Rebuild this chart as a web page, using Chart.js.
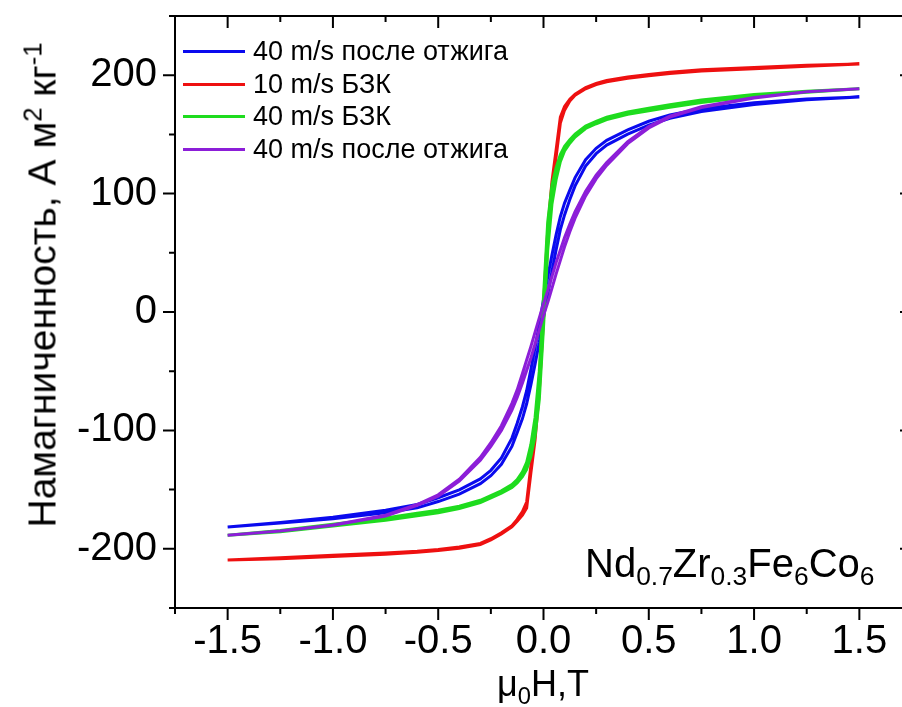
<!DOCTYPE html>
<html lang="ru">
<head>
<meta charset="utf-8">
<title>Намагниченность Nd0.7Zr0.3Fe6Co6</title>
<script src="https://cdn.jsdelivr.net/npm/chart.js@4.4.1/dist/chart.umd.min.js"></script>
<style>
  html, body { margin: 0; padding: 0; background: #fff; overflow: hidden; }
  #wrap { position: relative; width: 902px; height: 707px; overflow: hidden;
          font-family: "Liberation Sans", Arial, sans-serif; color: #000; }
  #plot { position: absolute; left: 0; top: 0; }
  .ytitle { position: absolute; left: 42px; top: 285px; white-space: nowrap; font-size: 39px;
            transform: translate(-50%, -50%) rotate(-90deg); line-height: 1; }
  .xtitle { position: absolute; left: 543px; top: 684px; white-space: nowrap; font-size: 36px;
            transform: translate(-50%, -50%); line-height: 1; }
  .formula { position: absolute; left: 585px; top: 543px; white-space: nowrap; font-size: 40px; line-height: 1; }
  sub, sup { font-size: 0.66em; line-height: 0; position: relative; vertical-align: baseline; }
  sub { top: 0.32em; }
  sup { top: -0.55em; }
  #legend { position: absolute; left: 183px; top: 36px; font-size: 27px; line-height: 1; }
  .row { position: relative; height: 32.7px; white-space: nowrap; }
  .row i { position: absolute; left: 0; top: 14px; width: 62px; height: 3px; }
  .row span { position: absolute; left: 70px; top: 2px; }
</style>
</head>
<body>
<div id="wrap">
  <canvas id="plot" width="930" height="707"></canvas>
  <div class="ytitle">Намагниченность, А м<sup>2</sup> кг<sup>-1</sup></div>
  <div class="xtitle">μ<sub>0</sub>H,T</div>
  <div class="formula">Nd<sub>0.7</sub>Zr<sub>0.3</sub>Fe<sub>6</sub>Co<sub>6</sub></div>
  <div id="legend"></div>
</div>
<script>
// Field sweep, T: descending branch from +1.5 T, then the ascending branch back
const fieldDown = [1.5, 1.25, 1.0, 0.75, 0.6, 0.5, 0.4, 0.3, 0.25, 0.2, 0.15, 0.125, 0.1, 0.08, 0.06, 0.04, 0.02, 0,
  -0.02, -0.04, -0.06, -0.08, -0.1, -0.125, -0.15, -0.2, -0.25, -0.3, -0.4, -0.5, -0.6, -0.75, -1.0, -1.25, -1.5];
const fieldUp = [-1.5, -1.25, -1.0, -0.75, -0.6, -0.5, -0.4, -0.3, -0.25, -0.2, -0.15, -0.125, -0.1, -0.08, -0.06, -0.04, -0.02, 0,
  0.02, 0.04, 0.06, 0.08, 0.1, 0.125, 0.15, 0.2, 0.25, 0.3, 0.4, 0.5, 0.6, 0.75, 1.0, 1.25, 1.5];

// Magnetization, A m^2 kg^-1
// 40 m/s после отжига (blue)
const annealedA_down = [181.5, 179.8, 176.7, 171.6, 166.4, 161.1, 153.8, 145, 138.3, 128.7, 113.5, 103, 92, 80.5, 65.5, 48, 29.5, 10.5,
  -10.5, -30, -48.5, -66.5, -80, -94, -106.5, -123.3, -133.7, -141, -150.2, -156.9, -162.6, -167.4, -173.3, -177.7, -181.5];
const annealedA_up = [-181.5, -178.3, -174.7, -169.6, -165.4, -160.1, -153.8, -145, -138.3, -128.7, -113.5, -102, -90, -77.5, -61.5, -44, -25.5, -4.5,
  14.5, 34, 52.5, 69.5, 82, 95, 106.5, 123.3, 133.7, 141, 150.2, 157.9, 163.6, 169.4, 175.3, 179.2, 181.5];
// 10 m/s БЗК (red)
const asCast10_down = [209.5, 208.5, 206.5, 204.5, 202.5, 200.5, 198.5, 195.5, 193, 189.5, 184, 179.8, 173.5, 164.5, 137, 110, 69, 6,
  -57, -100, -130, -160.5, -168.5, -175.2, -180.5, -186.5, -191.5, -195.5, -198.5, -200.5, -202, -203.5, -205.5, -207.5, -209.5];
const asCast10_up = [-209.5, -208.5, -206.5, -204.5, -203, -201.5, -199.5, -196.5, -192.5, -187.5, -181.5, -176.8, -171.5, -165.5, -136, -108, -67, -6,
  59, 102, 131, 159.5, 170.5, 178.2, 183, 188.5, 192, 194.5, 197.5, 199.5, 201.5, 203.5, 205.5, 207.5, 209.5];
// 40 m/s БЗК (green)
const asCast40_down = [188.5, 186.5, 183.8, 179, 175, 172, 169, 164.5, 161, 157, 150.2, 145.4, 140, 133, 122, 107, 76, 13,
  -50, -89, -112, -127, -135, -141.6, -145.8, -151, -155, -159, -164, -167.5, -170, -174, -179.2, -184.5, -188.5];
const asCast40_up = [-188.5, -185.5, -180.8, -176, -172, -169.5, -166, -161, -157, -153, -148.2, -144.4, -139, -133, -122, -105, -74, -13,
  52, 91, 112, 127, 136, 142.6, 147.8, 155, 159, 162.5, 167, 170, 173, 177, 182.2, 185.5, 188.5];
// 40 m/s после отжига (purple)
const annealedB_down = [188.5, 186, 181.2, 173.3, 165.4, 156.6, 143.8, 126.2, 115.6, 102, 84.8, 74.2, 63, 52.4, 41.8, 30, 18, 7,
  -5, -17, -29.2, -40.6, -52, -65.8, -77.2, -96, -110.4, -122.8, -141.2, -154.4, -162.6, -171.7, -179.8, -185, -188.5];
const annealedB_up = [-188.5, -185, -180.2, -172.3, -163.4, -155.6, -142.8, -125.2, -113.6, -100, -82.8, -72.2, -60, -49.4, -38.8, -27, -15, -3,
  8, 20, 32.2, 43.6, 55, 67.8, 79.2, 98, 112.4, 123.8, 142.2, 155.4, 164.6, 172.7, 180.8, 186, 188.5];

const seriesLabels = ['40 m/s после отжига', '10 m/s БЗК', '40 m/s БЗК', '40 m/s после отжига'];

// Axis ticks
const fieldTicks = [-1.5, -1.0, -0.5, 0, 0.5, 1.0, 1.5];
const fieldMinorTicks = [-1.75, -1.25, -0.75, -0.25, 0.25, 0.75, 1.25, 1.75];
const magTicks = [-200, -100, 0, 100, 200];
const magMinorTicks = [-250, -150, -50, 50, 150, 250];

const loop = (down, up) => fieldDown.map((h, i) => ({ x: h, y: down[i] }))
  .concat(fieldUp.map((h, i) => ({ x: h, y: up[i] })));

const styles = [
  { color: '#0a0aee', order: 4 },
  { color: '#ee1010', order: 3 },
  { color: '#1edc1e', order: 2 },
  { color: '#8c1ed8', order: 1 }
];
const loops = [
  loop(annealedA_down, annealedA_up),
  loop(asCast10_down, asCast10_up),
  loop(asCast40_down, asCast40_up),
  loop(annealedB_down, annealedB_up)
];

const CANVAS_W = 930, CANVAS_H = 707;
const AREA = { left: 175, top: 16, right: 912, bottom: 608 };

// Axis frame with major/minor ticks: outward on the left and bottom, inward on top and right
const frameTicks = {
  id: 'frameTicks',
  afterDatasetsDraw(chart) {
    const { ctx, chartArea: a, scales: { x, y } } = chart;
    ctx.save();
    ctx.strokeStyle = '#000';
    ctx.lineWidth = 2;
    ctx.lineCap = 'butt';
    ctx.strokeRect(a.left, a.top, a.right - a.left, a.bottom - a.top);
    ctx.beginPath();
    const xt = (v, len) => {
      const px = x.getPixelForValue(v);
      ctx.moveTo(px, a.bottom); ctx.lineTo(px, a.bottom + len);
      ctx.moveTo(px, a.top); ctx.lineTo(px, a.top + len);
    };
    const yt = (v, len) => {
      const py = y.getPixelForValue(v);
      ctx.moveTo(a.left, py); ctx.lineTo(a.left - len, py);
      ctx.moveTo(a.right, py); ctx.lineTo(a.right - len, py);
    };
    fieldTicks.forEach(v => xt(v, 12));
    fieldMinorTicks.forEach(v => xt(v, 6));
    magTicks.forEach(v => yt(v, 12));
    magMinorTicks.forEach(v => yt(v, 6));
    ctx.stroke();
    ctx.restore();
  }
};

const tickFont = { family: '"Liberation Sans", Arial, sans-serif', size: 40 };

const chart = new Chart(document.getElementById('plot'), {
  type: 'scatter',
  data: {
    datasets: loops.map((pts, i) => ({
      label: seriesLabels[i],
      data: pts,
      showLine: true,
      borderColor: styles[i].color,
      backgroundColor: styles[i].color,
      borderWidth: 3,
      pointRadius: 0,
      tension: 0,
      order: styles[i].order
    }))
  },
  options: {
    responsive: false,
    animation: false,
    events: [],
    layout: { padding: { top: AREA.top, right: CANVAS_W - AREA.right, left: 0, bottom: 0 } },
    plugins: { legend: { display: false }, tooltip: { enabled: false } },
    scales: {
      x: {
        type: 'linear', min: -1.75, max: 1.75,
        afterBuildTicks: s => { s.ticks = fieldTicks.map(v => ({ value: v })); },
        afterFit: s => { s.height = CANVAS_H - AREA.bottom; s.paddingLeft = 0; s.paddingRight = 0; },
        ticks: { font: tickFont, color: '#000', padding: 10, maxRotation: 0, autoSkip: false,
                 callback: v => Number(v).toFixed(1) },
        grid: { display: false, drawTicks: false },
        border: { display: false }
      },
      y: {
        type: 'linear', min: -250, max: 250,
        afterBuildTicks: s => { s.ticks = magTicks.map(v => ({ value: v })); },
        afterFit: s => { s.width = AREA.left; s.paddingTop = 0; s.paddingBottom = 0; },
        ticks: { font: tickFont, color: '#000', padding: 18, callback: v => String(v) },
        grid: { display: false, drawTicks: false },
        border: { display: false }
      }
    }
  },
  plugins: [frameTicks]
});

// Legend built from the chart's datasets
const legend = document.getElementById('legend');
chart.data.datasets.forEach(ds => {
  const row = document.createElement('div');
  row.className = 'row';
  const line = document.createElement('i');
  line.style.background = ds.borderColor;
  const text = document.createElement('span');
  text.textContent = ds.label;
  row.appendChild(line);
  row.appendChild(text);
  legend.appendChild(row);
});
</script>
</body>
</html>
